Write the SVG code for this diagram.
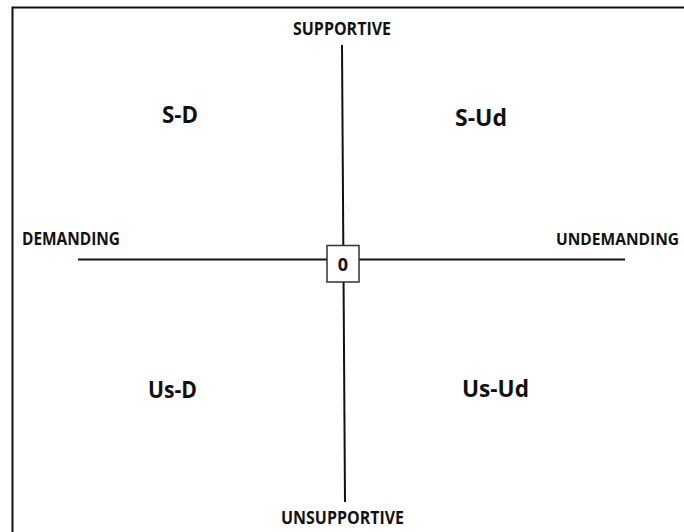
<svg xmlns="http://www.w3.org/2000/svg" width="684" height="532" viewBox="0 0 684 532">
<style>
.lbl{font-family:"Open Sans","Liberation Sans",sans-serif;font-weight:700;fill:#111;}
.ax{font-size:17px;}
.q{font-size:23px;}
.line{stroke:#111;stroke-width:2;fill:none;}
</style>
<rect width="684" height="532" fill="#fff"/>
<g id="frame"><path class="line" d="M12.5,532 V7.5 H684"/></g>
<g id="connectors">
<line class="line" x1="342" y1="45" x2="345" y2="502"/>
<line class="line" x1="78" y1="259.5" x2="625" y2="259.5"/>
</g>
<g id="origin">
<rect x="327" y="245.5" width="32" height="36.5" fill="#fff" stroke="#333" stroke-width="1.5"/>
<text class="lbl" x="343" y="270.5" font-size="18" text-anchor="middle">0</text>
</g>
<g id="supportive"><text class="lbl ax" x="293" y="35" textLength="98" lengthAdjust="spacingAndGlyphs">SUPPORTIVE</text></g>
<g id="demanding"><text class="lbl ax" x="22" y="245" textLength="98" lengthAdjust="spacingAndGlyphs">DEMANDING</text></g>
<g id="undemanding"><text class="lbl" x="556" y="245" font-size="16" textLength="123" lengthAdjust="spacingAndGlyphs">UNDEMANDING</text></g>
<g id="unsupportive"><text class="lbl ax" x="281" y="524" textLength="123" lengthAdjust="spacingAndGlyphs">UNSUPPORTIVE</text></g>
<g id="sd"><text class="lbl q" x="162" y="123" textLength="36" lengthAdjust="spacingAndGlyphs">S-D</text></g>
<g id="sud"><text class="lbl q" x="455" y="126" textLength="52" lengthAdjust="spacingAndGlyphs">S-Ud</text></g>
<g id="usd"><text class="lbl q" x="148" y="398" textLength="49" lengthAdjust="spacingAndGlyphs">Us-D</text></g>
<g id="usud"><text class="lbl q" x="462" y="397" textLength="67" lengthAdjust="spacingAndGlyphs">Us-Ud</text></g>
</svg>
